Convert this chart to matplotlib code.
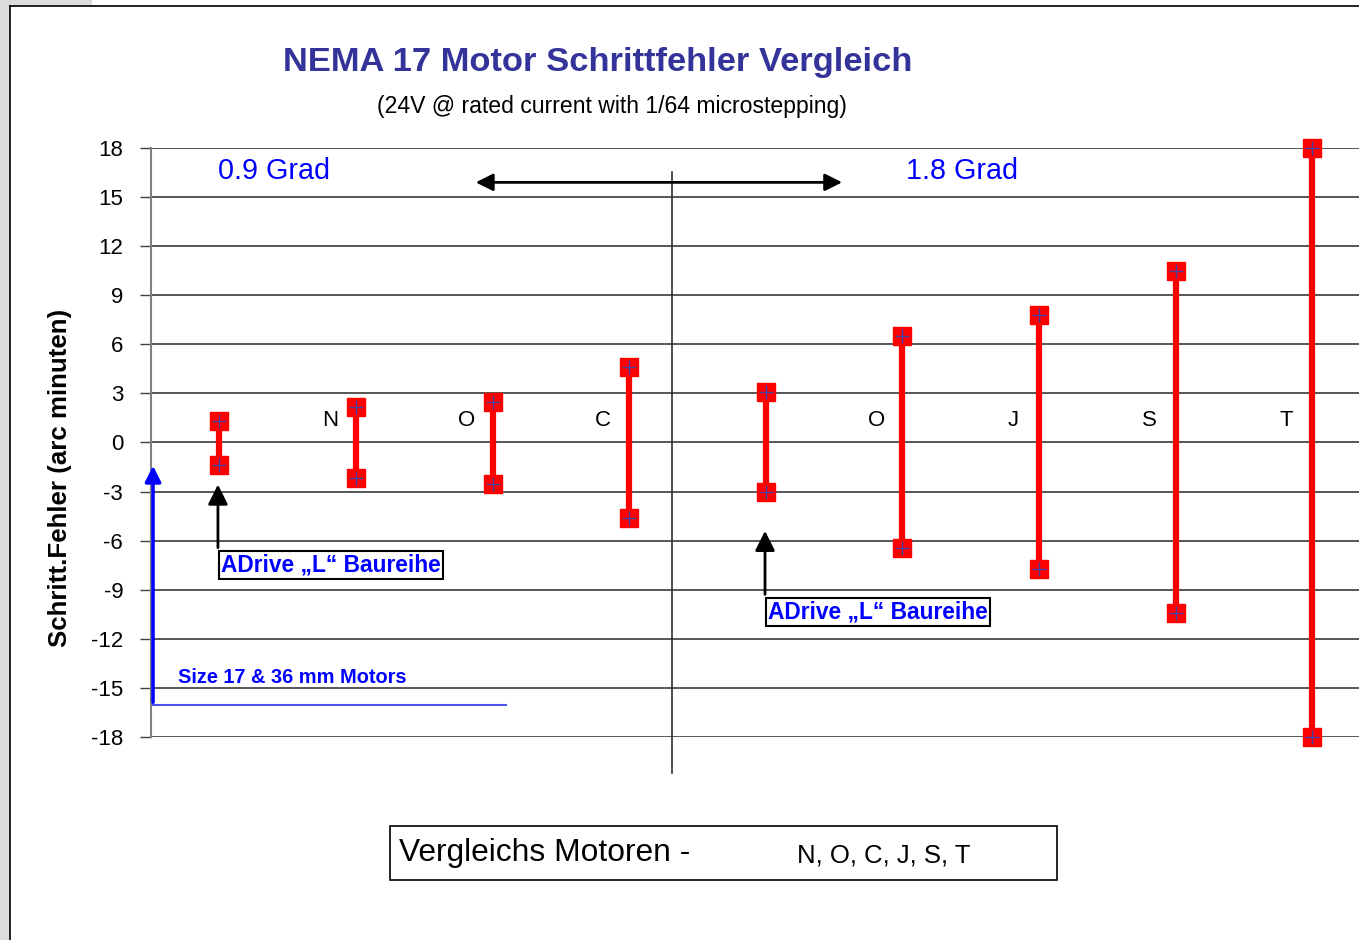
import matplotlib.pyplot as plt
from matplotlib.patches import Rectangle
from matplotlib.lines import Line2D

plt.rcParams['font.family'] = ['Liberation Sans', 'DejaVu Sans']
plt.rcParams['axes.unicode_minus'] = False

# Schrittfehler je Motor (arc minuten)
motor_labels = ['', 'N', 'O', 'C', '', 'O', 'J', 'S', 'T']
err_max = [1.3, 2.15, 2.5, 4.6, 3.1, 6.5, 7.8, 10.5, 18.0]
err_min = [-1.35, -2.2, -2.55, -4.6, -3.0, -6.45, -7.75, -10.4, -18.0]
y_ticks = [18, 15, 12, 9, 6, 3, 0, -3, -6, -9, -12, -15, -18]

W, H = 1359, 940
fig = plt.figure(figsize=(W / 100, H / 100), dpi=100)

# window chrome at the left edge
fig.add_artist(Rectangle((0, 0), 10 / W, 1, transform=fig.transFigure,
                         facecolor='#dcdcdc', edgecolor='none'))
fig.add_artist(Rectangle((0, 1 - 6 / H), 92 / W, 6 / H, transform=fig.transFigure,
                         facecolor='#dcdcdc', edgecolor='none'))
fig.add_artist(Line2D([10 / W, 10 / W], [0, 1 - 6 / H], transform=fig.transFigure,
                      color='black', lw=1.2))
fig.add_artist(Line2D([10 / W, 1], [1 - 6 / H, 1 - 6 / H], transform=fig.transFigure,
                      color='black', lw=1.2))

ax = fig.add_axes([151 / W, 203 / H, 1208 / W, 589 / H])
xs = [i + 0.5 for i in range(len(err_max))]

for x, lo, hi in zip(xs, err_min, err_max):
    ax.plot([x, x], [lo, hi], color='#ff0000', lw=4.5, zorder=3,
            marker='s', ms=13, mfc='#ff0000', mec='#ff0000', clip_on=False)
    ax.plot([x, x], [lo, hi], ls='none', marker='+', ms=10, mew=1,
            color='#4040a0', zorder=4, clip_on=False)

for x, lab in zip(xs, motor_labels):
    if lab:
        ax.text(x - 0.19, 1.35, lab, fontsize=16, ha='center', va='center')

ax.set_xlim(0, 1208 / 136.6)
ax.set_ylim(-18, 18)
ax.set_yticks(y_ticks)
ax.set_xticks([])
ax.tick_params(axis='y', labelsize=16, length=8, width=1, color='#404040', pad=12)
ax.yaxis.grid(True, color='#3a3a3a', lw=1.2)
ax.set_axisbelow(True)
for s in ['top', 'right', 'bottom']:
    ax.spines[s].set_visible(False)
ax.spines['left'].set_color('#808080')
ax.spines['left'].set_linewidth(1.5)

# divider and double arrow
ax.plot([3.814, 3.814], [16.53, -20.2], color='#303030', lw=1.2, clip_on=False)
ax.annotate('', xy=(2.357, 15.9), xytext=(5.08, 15.9),
            arrowprops=dict(arrowstyle='<|-|>', color='black', lw=2, mutation_scale=26))
ax.text(0.49, 16.6, '0.9 Grad', color='#0000ff', fontsize=20.7, ha='left', va='center')
ax.text(5.527, 16.6, '1.8 Grad', color='#0000ff', fontsize=20.7, ha='left', va='center')

# ADrive annotations
box = dict(boxstyle='square,pad=0.1', facecolor='white', edgecolor='black', lw=1.5)
ax.text(0.512, -7.5, 'ADrive \u201eL\u201c Baureihe', color='#0000ff', fontsize=16.4,
        fontweight='bold', ha='left', va='center', bbox=box)
ax.annotate('', xy=(0.49, -2.4), xytext=(0.49, -6.6),
            arrowprops=dict(arrowstyle='-|>', color='black', lw=2, mutation_scale=30))
ax.text(4.517, -10.37, 'ADrive \u201eL\u201c Baureihe', color='#0000ff', fontsize=16.4,
        fontweight='bold', ha='left', va='center', bbox=box)
ax.annotate('', xy=(4.495, -5.23), xytext=(4.495, -9.45),
            arrowprops=dict(arrowstyle='-|>', color='black', lw=2, mutation_scale=30))

# Size 17 marker
ax.plot([0.015, 2.6], [-16.05, -16.05], color='#5050f0', lw=1.5, clip_on=False)
ax.annotate('', xy=(0.015, -1.25), xytext=(0.015, -16.05),
            arrowprops=dict(arrowstyle='-|>', color='#0000ff', lw=2.5, mutation_scale=24),
            annotation_clip=False)
ax.text(0.198, -14.35, 'Size 17 & 36 mm Motors', color='#0000ff', fontsize=14.4,
        fontweight='bold', ha='left', va='center')

# titles
fig.text(598 / W, 1 - 62 / H, 'NEMA 17 Motor Schrittfehler Vergleich', color='#333399',
         fontsize=24.8, fontweight='bold', ha='center', va='center')
fig.text(612 / W, 1 - 107 / H, '(24V @ rated current with 1/64 microstepping)',
         fontsize=16.6, ha='center', va='center')
fig.text(60 / W, 1 - 478 / H, 'Schritt.Fehler (arc minuten)', fontsize=18.6,
         fontweight='bold', rotation=90, ha='center', va='center')

# bottom legend box
fig.add_artist(Rectangle((390 / W, 1 - 880 / H), 667 / W, 54 / H, transform=fig.transFigure,
                         facecolor='white', edgecolor='black', lw=1.2))
fig.text(399 / W, 1 - 853 / H, 'Vergleichs Motoren -', fontsize=22.9, ha='left', va='center')
fig.text(797 / W, 1 - 855 / H, 'N, O, C, J, S, T', fontsize=18.5, ha='left', va='center')

fig.savefig('out.png', dpi=100)
